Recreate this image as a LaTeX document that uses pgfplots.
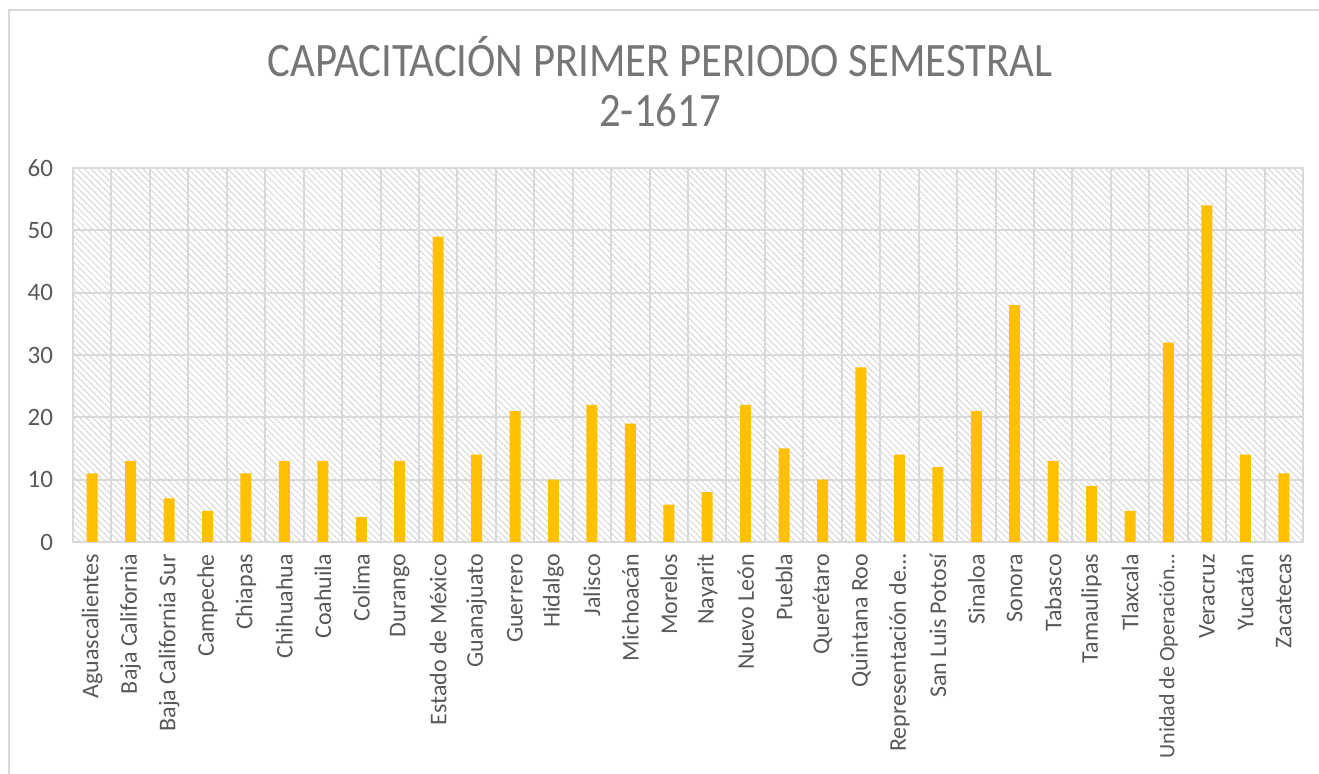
\documentclass[border=0pt]{standalone}
\usepackage{fontspec}
\setmainfont{Carlito}
\usepackage{pgfplots}
\pgfplotsset{compat=1.18}
\usetikzlibrary{patterns.meta}

\definecolor{barcol}{HTML}{FFC000}
\definecolor{txtcol}{HTML}{595959}
\definecolor{titlecol}{HTML}{767676}
\definecolor{gridcol}{HTML}{D9D9D9}
\definecolor{hatchcol}{HTML}{D6D6D6}

\begin{document}
\begin{tikzpicture}
  % page frame: 1319x774 px at 0.5pt/px, plot area lower-left at origin
  \path[use as bounding box] (-36.5pt,-116pt) rectangle (623pt,271pt);
  \draw[gridcol, line width=0.7pt] (-32pt,-130pt) -- (-32pt,266pt) -- (640pt,266pt);
  \begin{axis}[
      scale only axis,
      width  = 615pt,
      height = 187pt,
      xmin = -0.5, xmax = 31.5,
      ymin = 0, ymax = 60,
      ytick = {0,10,...,60},
      xtick = {0,...,31},
      minor xtick = {0.5,1.5,...,30.5},
      xticklabels = {Aguascalientes, Baja California, Baja California Sur, Campeche,
        Chiapas, Chihuahua, Coahuila, Colima, Durango, Estado de México, Guanajuato,
        Guerrero, Hidalgo, Jalisco, Michoacán, Morelos, Nayarit, Nuevo León, Puebla,
        Querétaro, Quintana Roo, Representación de…, San Luis Potosí, Sinaloa, Sonora,
        Tabasco, Tamaulipas, Tlaxcala, {\fontsize{11}{13}\selectfont Unidad de Operación…},
        Veracruz, Yucatán, Zacatecas},
      ymajorgrids, xminorgrids,
      grid style = {gridcol, line width=1pt},
      minor grid style = {gridcol, line width=1pt},
      axis line style = {gridcol, line width=1pt},
      major tick length = 0pt, minor tick length = 0pt,
      tick style = {draw=none},
      axis background/.style = {pattern={Lines[angle=-45, distance=2.3pt, line width=0.5pt]}, pattern color=hatchcol},
      x tick label style = {rotate=90, anchor=east, xshift=-2.5pt,
        font=\fontsize{12}{14}\selectfont, text=txtcol},
      y tick label style = {xshift=-6.5pt, font=\fontsize{12.5}{14}\selectfont, text=txtcol},
      /pgf/number format/assume math mode=true,
    ]
    \addplot[ybar, bar width=5.5pt, fill=barcol, draw=none] coordinates {
      (0,11) (1,13) (2,7) (3,5) (4,11) (5,13) (6,13) (7,4) (8,13) (9,49)
      (10,14) (11,21) (12,10) (13,22) (14,19) (15,6) (16,8) (17,22) (18,15) (19,10)
      (20,28) (21,14) (22,12) (23,21) (24,38) (25,13) (26,9) (27,5) (28,32) (29,54)
      (30,14) (31,11)};
  \end{axis}
  \node[align=center, text=titlecol, font=\fontsize{24}{25}\selectfont,
        xscale=0.89, transform shape] at (293.5pt,230pt)
    {CAPACITACIÓN PRIMER PERIODO SEMESTRAL\\2-1617};
\end{tikzpicture}
\end{document}
